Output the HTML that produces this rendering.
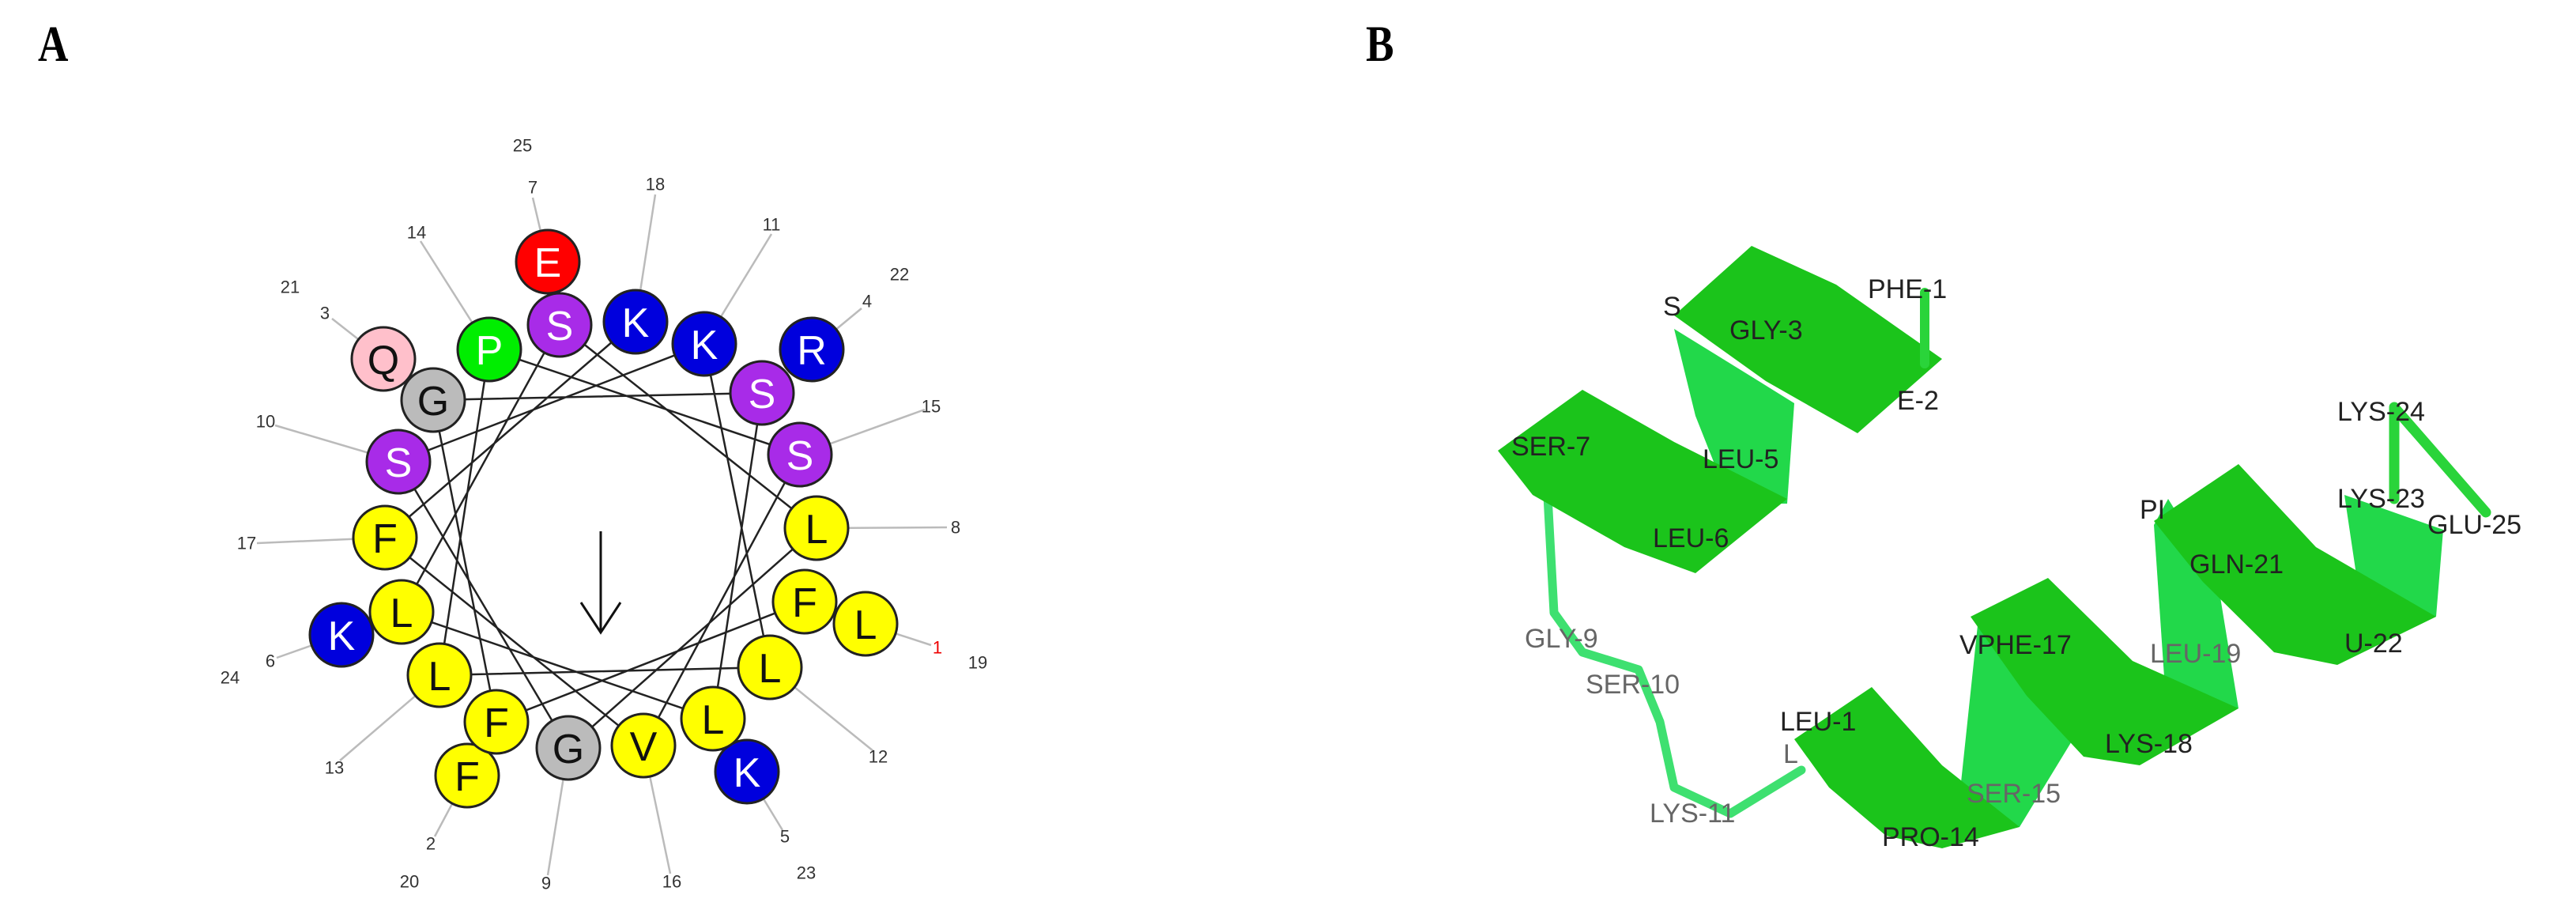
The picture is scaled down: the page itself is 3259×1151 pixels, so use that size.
<!DOCTYPE html>
<html><head><meta charset="utf-8"><style>
html,body{margin:0;padding:0;background:#fff;}
svg{display:block;}
.n{font-family:"Liberation Sans",sans-serif;font-size:22px;fill:#333;text-anchor:middle;dominant-baseline:central;}
.c{stroke:#222;stroke-width:3;}
.l{font-family:"Liberation Sans",sans-serif;font-size:52px;text-anchor:middle;dominant-baseline:central;}
.w{fill:#fff;} .k{fill:#111;}
.g{stroke:#bbb;stroke-width:2.5;}
.bl{font-family:"Liberation Sans",sans-serif;font-size:34px;fill:#222;dominant-baseline:central;}
.gl{fill:#666;}
</style></head><body>
<svg width="3259" height="1151" viewBox="0 0 3259 1151" xmlns="http://www.w3.org/2000/svg">
<text x="48" y="77" font-family="Liberation Serif,serif" font-weight="bold" font-size="56" transform="translate(48 0) scale(0.95 1.15) translate(-48 -10)">A</text>
<text x="1728" y="77" font-family="Liberation Serif,serif" font-weight="bold" font-size="56" transform="translate(1728 0) scale(0.95 1.15) translate(-1728 -10)">B</text>

<!-- label lines -->
<g class="g">
<line x1="674" y1="250" x2="693" y2="331"/>
<line x1="829" y1="246" x2="804" y2="407"/>
<line x1="976" y1="296" x2="891" y2="435"/>
<line x1="1090" y1="390" x2="1027" y2="442"/>
<line x1="1170" y1="518" x2="1012" y2="575"/>
<line x1="1198" y1="667" x2="1033" y2="668"/>
<line x1="1178" y1="816" x2="1095" y2="789"/>
<line x1="1105" y1="950" x2="974" y2="844"/>
<line x1="990" y1="1050" x2="945" y2="976"/>
<line x1="848" y1="1105" x2="814" y2="943"/>
<line x1="693" y1="1107" x2="719" y2="946"/>
<line x1="550" y1="1058" x2="591" y2="981"/>
<line x1="430" y1="962" x2="556" y2="854"/>
<line x1="350" y1="832" x2="432" y2="803"/>
<line x1="325" y1="687" x2="487" y2="680"/>
<line x1="348" y1="538" x2="504" y2="584"/>
<line x1="420" y1="403" x2="485" y2="454"/>
<line x1="532" y1="305" x2="619" y2="442"/>
</g>
<g class="n">
<text x="661" y="184">25</text><text x="674" y="237">7</text><text x="829" y="233">18</text>
<text x="976" y="284">11</text><text x="1138" y="347">22</text><text x="1097" y="381">4</text>
<text x="1178" y="514">15</text><text x="1209" y="667">8</text><text x="1186" y="819" fill="#e00">1</text>
<text x="1237" y="838">19</text><text x="1111" y="957">12</text><text x="993" y="1058">5</text>
<text x="1020" y="1104">23</text><text x="850" y="1115">16</text><text x="691" y="1117">9</text>
<text x="518" y="1115">20</text><text x="545" y="1067">2</text><text x="423" y="971">13</text>
<text x="291" y="857">24</text><text x="342" y="836">6</text><text x="312" y="687">17</text>
<text x="336" y="533">10</text><text x="367" y="363">21</text><text x="411" y="396">3</text>
<text x="527" y="294">14</text>
</g>
<polyline fill="none" stroke="#222" stroke-width="2.5" points="1018,761 628,913 548,506 964,497 902,909 508,774 708,411 1033,668 719,946 504,584 891,435 974,844 556,854 619,442 1012,575 814,943 487,680 804,407"/>
<g stroke="#111" stroke-width="3" fill="none"><line x1="760" y1="672" x2="760" y2="800"/><polyline points="735,762 760,800 785,762"/></g>

<g class="c">
<circle cx="693" cy="331" r="40" fill="#f00"/>
<circle cx="1027" cy="442" r="40" fill="#0000dd"/>
<circle cx="1095" cy="789" r="40" fill="#ffff00"/>
<circle cx="945" cy="976" r="40" fill="#0000dd"/>
<circle cx="591" cy="981" r="40" fill="#ffff00"/>
<circle cx="432" cy="803" r="40" fill="#0000dd"/>
<circle cx="485" cy="454" r="40" fill="#ffc0cb"/>
<circle cx="708" cy="411" r="40" fill="#a82be8"/>
<circle cx="804" cy="407" r="40" fill="#0000dd"/>
<circle cx="891" cy="435" r="40" fill="#0000dd"/>
<circle cx="964" cy="497" r="40" fill="#a82be8"/>
<circle cx="1012" cy="575" r="40" fill="#a82be8"/>
<circle cx="1033" cy="668" r="40" fill="#ffff00"/>
<circle cx="1018" cy="761" r="40" fill="#ffff00"/>
<circle cx="974" cy="844" r="40" fill="#ffff00"/>
<circle cx="902" cy="909" r="40" fill="#ffff00"/>
<circle cx="814" cy="943" r="40" fill="#ffff00"/>
<circle cx="719" cy="946" r="40" fill="#bbb"/>
<circle cx="628" cy="913" r="40" fill="#ffff00"/>
<circle cx="556" cy="854" r="40" fill="#ffff00"/>
<circle cx="508" cy="774" r="40" fill="#ffff00"/>
<circle cx="487" cy="680" r="40" fill="#ffff00"/>
<circle cx="504" cy="584" r="40" fill="#a82be8"/>
<circle cx="548" cy="506" r="40" fill="#bbb"/>
<circle cx="619" cy="442" r="40" fill="#00ee00"/>
</g>
<g class="l">
<text class="w" x="693" y="333">E</text><text class="w" x="1027" y="444">R</text><text class="k" x="1095" y="791">L</text>
<text class="w" x="945" y="978">K</text><text class="k" x="591" y="983">F</text><text class="w" x="432" y="805">K</text>
<text class="k" x="485" y="456">Q</text><text class="w" x="708" y="413">S</text><text class="w" x="804" y="409">K</text>
<text class="w" x="891" y="437">K</text><text class="w" x="964" y="499">S</text><text class="w" x="1012" y="577">S</text>
<text class="k" x="1033" y="670">L</text><text class="k" x="1018" y="763">F</text><text class="k" x="974" y="846">L</text>
<text class="k" x="902" y="911">L</text><text class="k" x="814" y="945">V</text><text class="k" x="719" y="948">G</text>
<text class="k" x="628" y="915">F</text><text class="k" x="556" y="856">L</text><text class="k" x="508" y="776">L</text>
<text class="k" x="487" y="682">F</text><text class="w" x="504" y="586">S</text><text class="k" x="548" y="508">G</text>
<text class="w" x="619" y="444">P</text>
</g>

<!-- Panel B -->
<g stroke-linejoin="round" stroke-linecap="round">
<polyline fill="none" stroke="#3ee070" stroke-width="11" points="1957,609 1966,775 2002,825 2073,847 2100,913 2118,996 2189,1029 2279,974"/>
<polygon fill="#22d84a" points="2118,416 2225,482 2270,510 2261,637 2189,637 2145,526"/>
<polygon fill="#22d84a" points="2475,1046 2502,791 2546,758 2636,913 2555,1046"/>
<polygon fill="#22d84a" points="2725,664 2743,631 2805,731 2832,896 2743,930"/>
<polygon fill="#22d84a" points="2966,626 3091,670 3082,780 2984,747"/>
<polygon fill="#1bc41b" points="2118,399 2216,311 2323,360 2457,454 2350,548 2234,482"/>
<polygon fill="#1bc41b" points="1895,570 2002,493 2118,559 2261,631 2145,725 2055,692 1939,626"/>
<polygon fill="#1bc41b" points="2270,935 2368,869 2457,968 2555,1046 2457,1073 2386,1057 2314,996"/>
<polygon fill="#1bc41b" points="2493,780 2591,731 2698,836 2832,896 2707,968 2636,957 2564,880"/>
<polygon fill="#1bc41b" points="2725,659 2832,587 2930,692 3082,780 2957,841 2877,825 2787,736"/>
<line x1="2435" y1="370" x2="2435" y2="460" stroke="#2ad43a" stroke-width="12"/>
<polyline fill="none" stroke="#2ad43a" stroke-width="13" points="3029,631 3029,515 3145,648"/>
</g>
<g class="bl">
<text x="2363" y="366">PHE-1</text>
<text x="2104" y="388">S</text>
<text x="2188" y="418">GLY-3</text>
<text x="2400" y="507">E-2</text>
<text x="1912" y="565">SER-7</text>
<text x="2154" y="581">LEU-5</text>
<text x="2091" y="681">LEU-6</text>
<text x="2957" y="521">LYS-24</text>
<text x="2707" y="645">PI</text>
<text x="2957" y="631">LYS-23</text>
<text x="3071" y="664">GLU-25</text>
<text x="2770" y="714">GLN-21</text>
<text class="gl" x="1929" y="808">GLY-9</text>
<text class="gl" x="2006" y="866">SER-10</text>
<text x="2479" y="816">VPHE-17</text>
<text class="gl" x="2720" y="827">LEU-19</text>
<text x="2966" y="814">U-22</text>
<text x="2252" y="913">LEU-1</text>
<text class="gl" x="2256" y="954">L</text>
<text x="2663" y="941">LYS-18</text>
<text class="gl" x="2488" y="1004">SER-15</text>
<text class="gl" x="2087" y="1029">LYS-11</text>
<text x="2381" y="1059">PRO-14</text>
</g>
</svg>
</body></html>
